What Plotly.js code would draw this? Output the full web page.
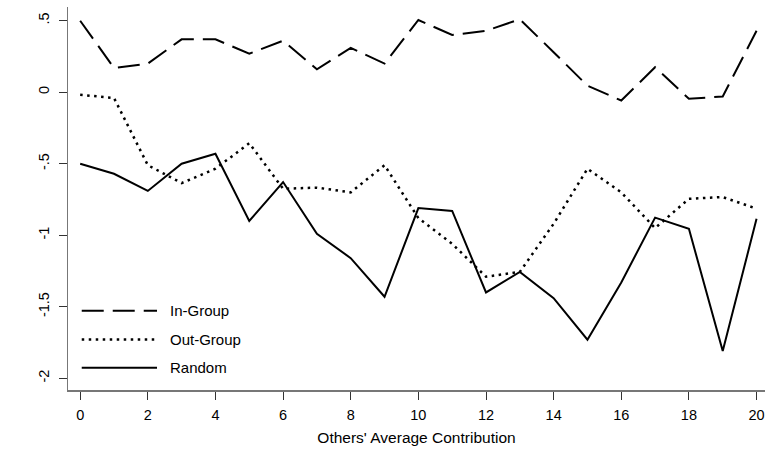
<!DOCTYPE html>
<html>
<head>
<meta charset="utf-8">
<script src="https://cdn.plot.ly/plotly-3.0.1.min.js"></script>
<style>html,body{margin:0;padding:0;background:#fff;}#chart{width:765px;height:450px;}</style>
</head>
<body>
<div id="chart"></div>
<script>
var contribution = [0,1,2,3,4,5,6,7,8,9,10,11,12,13,14,15,16,17,18,19,20];
var seriesNames = ["In-Group", "Out-Group", "Random"];
var inGroup  = [0.50,0.17,0.20,0.37,0.37,0.27,0.36,0.16,0.31,0.20,0.505,0.40,0.43,0.51,0.28,0.046,-0.058,0.175,-0.046,-0.03,0.43];
var outGroup = [-0.018,-0.04,-0.51,-0.635,-0.535,-0.356,-0.675,-0.667,-0.70,-0.51,-0.88,-1.06,-1.29,-1.256,-0.92,-0.535,-0.70,-0.95,-0.745,-0.733,-0.814];
var randomG  = [-0.50,-0.57,-0.69,-0.50,-0.43,-0.90,-0.628,-0.99,-1.16,-1.43,-0.81,-0.83,-1.40,-1.256,-1.44,-1.73,-1.33,-0.877,-0.955,-1.81,-0.885];
var xTickVals = [0,2,4,6,8,10,12,14,16,18,20];
var yTickVals = [0.5,0,-0.5,-1,-1.5,-2];
var yTickText = [".5","0","-.5","-1","-1.5","-2"];

var styles = [
  {color:"#000", width:2, dash:"22px,9px"},
  {color:"#000", width:2.5, dash:"2.5px,4.5px"},
  {color:"#000", width:2, dash:"solid"}
];
var values = [inGroup, outGroup, randomG];

var traces = values.map(function(v,i){
  return {x:contribution, y:v, type:"scatter", mode:"lines", name:seriesNames[i],
          line:styles[i], showlegend:false, hoverinfo:"skip"};
});

var legY = [0.207, 0.132, 0.058];
var shapes = [], annotations = [];
seriesNames.forEach(function(n,i){
  shapes.push({type:"line", xref:"paper", yref:"paper", x0:0.0197, x1:0.1277, y0:legY[i], y1:legY[i],
               line:styles[i]});
  annotations.push({xref:"paper", yref:"paper", x:0.1435, y:legY[i], xanchor:"left", yanchor:"middle",
                    text:n, showarrow:false, font:{family:"Liberation Sans, Arial, sans-serif", size:15, color:"#000"}});
});

var layout = {
  width:765, height:450,
  margin:{l:68, r:0, t:7, b:60, pad:0},
  paper_bgcolor:"#fff", plot_bgcolor:"#fff",
  font:{family:"Liberation Sans, Arial, sans-serif", color:"#000", size:14},
  showlegend:false,
  xaxis:{range:[-0.36,20.25], tickvals:xTickVals, ticks:"outside", ticklen:8, tickwidth:1, tickcolor:"#333",
         showline:true, linecolor:"#777", linewidth:1.5, showgrid:false, zeroline:false,
         tickfont:{size:14.5}, ticklabelstandoff:3,
         title:{text:"Others' Average Contribution", font:{size:15.5}, standoff:10}},
  yaxis:{range:[-2.082,0.596], tickvals:yTickVals, ticktext:yTickText, tickangle:-90, ticks:"outside", ticklen:8,
         tickwidth:1, tickcolor:"#333", ticklabelstandoff:4,
         showline:true, linecolor:"#777", linewidth:1.5, showgrid:false, zeroline:false,
         tickfont:{size:14.5}},
  shapes:shapes,
  annotations:annotations
};
Plotly.newPlot("chart", traces, layout, {staticPlot:true, displayModeBar:false});
</script>
</body>
</html>
